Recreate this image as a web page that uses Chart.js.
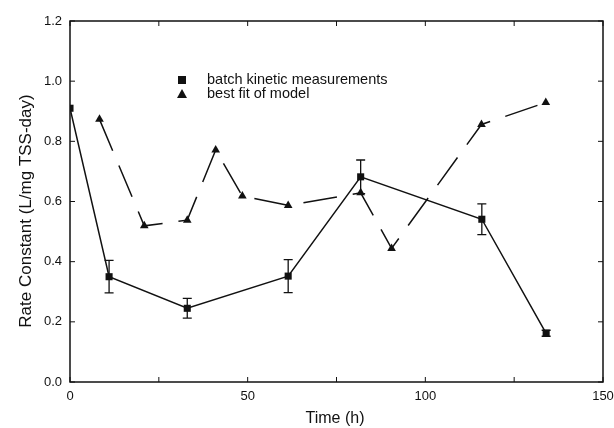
<!DOCTYPE html>
<html>
<head>
<meta charset="utf-8">
<script src="https://cdn.jsdelivr.net/npm/chart.js@4"></script>
<style>
  html, body { margin: 0; padding: 0; background: #fff; }
  #wrap { width: 614px; height: 428px; }
</style>
</head>
<body>
<div id="wrap"><canvas id="chart" width="614" height="428"></canvas></div>
<script>
// données
const batchTime = [0, 11, 33, 61.4, 81.8, 115.9, 134];
const batchRate = [0.91, 0.35, 0.245, 0.352, 0.682, 0.541, 0.162];
const batchErr = [0, 0.054, 0.033, 0.055, 0.056, 0.051, 0.01];
const modelTime = [8.3, 20.9, 33, 41, 48.5, 61.4, 81.8, 90.5, 115.8, 133.9];
const modelRate = [0.873, 0.519, 0.538, 0.771, 0.618, 0.587, 0.629, 0.444, 0.856, 0.929];
const seriesNames = ['batch kinetic measurements', 'best fit of model'];
const xTicks = [0, 50, 100, 150];
const yTicks = [0, 0.2, 0.4, 0.6, 0.8, 1.0, 1.2];
const xTitle = 'Time (h)';
const yTitle = 'Rate Constant (L/mg TSS-day)';

const FONT = 'Arial, "Liberation Sans", sans-serif';
const INK = '#111';

// barres d'erreur, cadre, graduations internes, titres et légende
const extras = {
  id: 'extras',
  afterDatasetsDraw(chart) {
    const ctx = chart.ctx;
    const x = chart.scales.x, y = chart.scales.y;
    const a = chart.chartArea;
    ctx.save();
    ctx.strokeStyle = INK;
    ctx.lineWidth = 1.3;
    batchTime.forEach((t, i) => {
      const e = batchErr[i];
      if (!e) return;
      const px = x.getPixelForValue(t);
      const top = y.getPixelForValue(batchRate[i] + e);
      const bot = y.getPixelForValue(batchRate[i] - e);
      ctx.beginPath();
      ctx.moveTo(px, top); ctx.lineTo(px, bot);
      ctx.moveTo(px - 4.5, top); ctx.lineTo(px + 4.5, top);
      ctx.moveTo(px - 4.5, bot); ctx.lineTo(px + 4.5, bot);
      ctx.stroke();
    });

    // cadre
    ctx.lineWidth = 1.5;
    ctx.strokeRect(a.left, a.top, a.right - a.left, a.bottom - a.top);

    // graduations vers l'intérieur
    ctx.lineWidth = 1;
    for (let v = 0; v <= 150; v += 25) {
      const px = x.getPixelForValue(v);
      ctx.beginPath();
      ctx.moveTo(px, a.bottom); ctx.lineTo(px, a.bottom - 5);
      ctx.moveTo(px, a.top); ctx.lineTo(px, a.top + 5);
      ctx.stroke();
    }
    yTicks.forEach(v => {
      const py = y.getPixelForValue(v);
      ctx.beginPath();
      ctx.moveTo(a.left, py); ctx.lineTo(a.left + 5, py);
      ctx.moveTo(a.right, py); ctx.lineTo(a.right - 5, py);
      ctx.stroke();
    });

    // titres des axes
    ctx.fillStyle = INK;
    ctx.textAlign = 'center';
    ctx.textBaseline = 'middle';
    ctx.font = '16px ' + FONT;
    ctx.fillText(xTitle, 335, 419);
    ctx.save();
    ctx.translate(26, 211);
    ctx.rotate(-Math.PI / 2);
    ctx.font = '17px ' + FONT;
    ctx.fillText(yTitle, 0, 0);
    ctx.restore();

    // légende
    const lx = 182, ly = [80, 94];
    ctx.fillRect(lx - 4, ly[0] - 4, 8, 8);
    ctx.beginPath();
    ctx.moveTo(lx, ly[1] - 5);
    ctx.lineTo(lx + 5, ly[1] + 4);
    ctx.lineTo(lx - 5, ly[1] + 4);
    ctx.closePath();
    ctx.fill();
    ctx.font = '14.5px ' + FONT;
    ctx.textAlign = 'left';
    ctx.fillText(seriesNames[0], 207, ly[0]);
    ctx.fillText(seriesNames[1], 207, ly[1]);
    ctx.restore();
  }
};

new Chart(document.getElementById('chart').getContext('2d'), {
  type: 'scatter',
  data: {
    datasets: [
      {
        label: seriesNames[0],
        data: batchTime.map((t, i) => ({ x: t, y: batchRate[i] })),
        showLine: true,
        borderColor: INK,
        borderWidth: 1.5,
        backgroundColor: INK,
        pointStyle: 'rect',
        pointRadius: 5,
        pointBorderWidth: 0,
        order: 1
      },
      {
        label: seriesNames[1],
        data: modelTime.map((t, i) => ({ x: t, y: modelRate[i] })),
        showLine: true,
        borderColor: INK,
        borderWidth: 1.5,
        borderDash: [34, 16],
        backgroundColor: INK,
        pointStyle: 'triangle',
        pointRadius: 5,
        pointBorderWidth: 0,
        order: 2
      }
    ]
  },
  options: {
    responsive: false,
    animation: false,
    layout: { padding: { top: 21, right: 11, left: 0, bottom: 0 } },
    plugins: {
      legend: { display: false },
      tooltip: { enabled: false }
    },
    scales: {
      x: {
        type: 'linear',
        min: 0, max: 150,
        afterBuildTicks: s => { s.ticks = xTicks.map(v => ({ value: v })); },
        afterFit: s => { s.height = 46; s.paddingLeft = 0; s.paddingRight = 0; },
        grid: { display: false, drawTicks: false },
        border: { display: false },
        ticks: {
          color: INK,
          font: { family: FONT, size: 13 },
          padding: 7,
          maxRotation: 0
        }
      },
      y: {
        min: 0, max: 1.2,
        afterBuildTicks: s => { s.ticks = yTicks.map(v => ({ value: v })); },
        afterFit: s => { s.width = 70; s.paddingTop = 0; s.paddingBottom = 0; },
        grid: { display: false, drawTicks: false },
        border: { display: false },
        ticks: {
          color: INK,
          font: { family: FONT, size: 13 },
          padding: 8,
          callback: v => v.toFixed(1)
        }
      }
    }
  },
  plugins: [extras]
});
</script>
</body>
</html>
